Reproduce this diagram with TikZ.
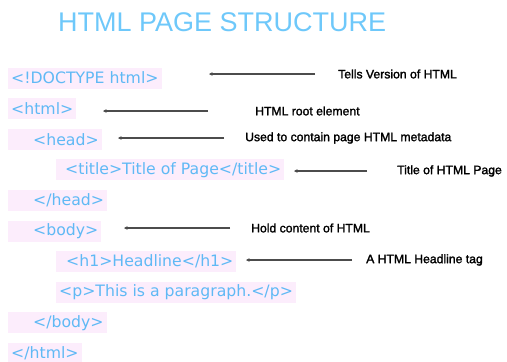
\documentclass[tikz,border=0pt]{standalone}
\usepackage{fontspec}
\setmainfont{Liberation Sans}
\newfontfamily\codefont{DejaVu Sans}
\newfontfamily\notefont[FakeBold=1.8]{Liberation Sans}
\usetikzlibrary{arrows.meta}

\definecolor{titleblue}{RGB}{110,200,250}
\definecolor{codeblue}{RGB}{95,185,245}
\definecolor{tagpink}{RGB}{252,237,252}

\newcommand{\ind}[1]{\hspace*{#1pt}}

\begin{document}
\begin{tikzpicture}[
    x=1pt, y=-1pt,
    heading/.style={
        anchor=west,
        inner sep=0pt,
        font=\fontsize{27}{30}\selectfont,
        text=titleblue
    },
    tag/.style={
        anchor=west,
        fill=tagpink,
        inner xsep=3pt,
        inner ysep=0pt,
        minimum height=21pt,
        font=\codefont\fontsize{15.7}{18}\selectfont,
        text=codeblue
    },
    note/.style={
        anchor=west,
        inner sep=0pt,
        font=\notefont\fontsize{12.2}{14}\selectfont
    },
    pointer/.style={
        -{Stealth[length=3.5pt,width=3.5pt]},
        line width=1.4pt,
        black!70
    }
]
\useasboundingbox (0,0) rectangle (507,362);

% Titolo
\node[heading] (title) at (58,22) {HTML PAGE STRUCTURE};

% Righe di codice
\node[tag] (doctype) at (8,78) {<!DOCTYPE html>};
\node[tag] (html) at (8,108.6) {<html>};
\node[tag] (head) at (8,139.2) {\ind{22}<head>};
\node[tag] (ttl) at (56,169.8) {\ind{6}<title>Title of Page</title>};
\node[tag] (headend) at (8,200.4) {\ind{22}</head>};
\node[tag] (body) at (8,231) {\ind{22}<body>};
\node[tag] (hone) at (56,261.6) {\ind{7}<h1>Headline</h1>};
\node[tag] (para) at (56,292.2) {<p>This is a paragraph.</p>};
\node[tag] (bodyend) at (8,322.8) {\ind{22}</body>};
\node[tag] (htmlend) at (8,353.4) {</html>};

% Note
\node[note] (nversion) at (338,74) {Tells Version of HTML};
\node[note] (nroot) at (255,111) {HTML root element};
\node[note] (nmeta) at (245,138) {Used to contain page HTML metadata};
\node[note] (npage) at (397,171) {Title of HTML Page};
\node[note] (ncontent) at (251,228) {Hold content of HTML};
\node[note] (nheadline) at (366,260) {A HTML Headline tag};

% Punte delle frecce
\coordinate (tversion) at (209,74);
\coordinate (troot) at (103,111);
\coordinate (tmeta) at (118,138);
\coordinate (tpage) at (294,171);
\coordinate (tcontent) at (124,228);
\coordinate (theadline) at (246,260);

% Frecce
\draw[pointer, shorten <=23pt] (nversion.west) -- (tversion);
\draw[pointer, shorten <=47pt] (nroot.west) -- (troot);
\draw[pointer, shorten <=21pt] (nmeta.west) -- (tmeta);
\draw[pointer, shorten <=30pt] (npage.west) -- (tpage);
\draw[pointer, shorten <=21pt] (ncontent.west) -- (tcontent);
\draw[pointer, shorten <=14pt] (nheadline.west) -- (theadline);

\end{tikzpicture}
\end{document}
